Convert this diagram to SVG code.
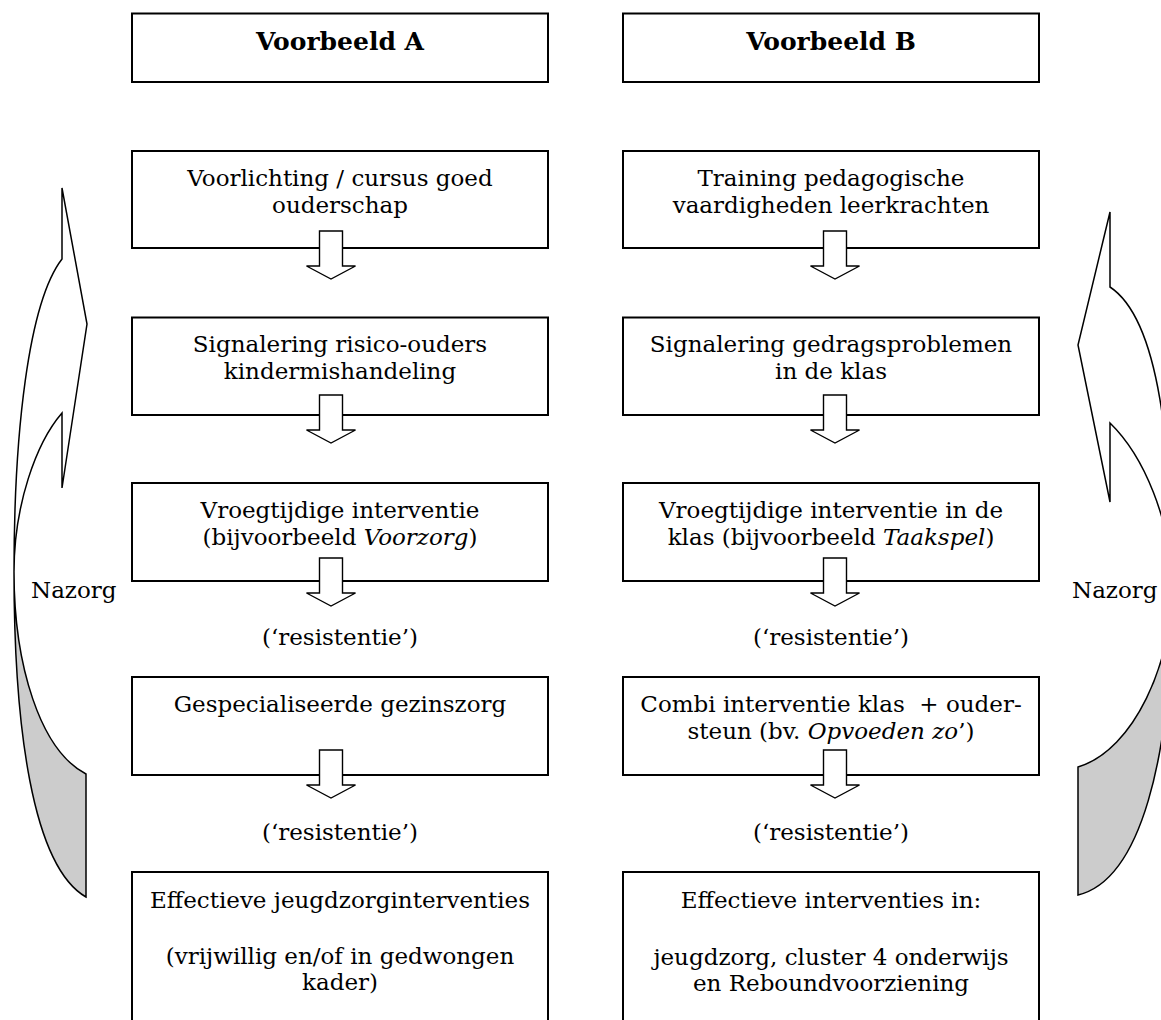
<svg xmlns="http://www.w3.org/2000/svg" width="1161" height="1020" viewBox="0 0 1161 1020">
<style>
.box{fill:#fff;stroke:#000;stroke-width:2}
.t{font-family:"DejaVu Serif","Liberation Serif",serif;font-size:23px;fill:#000;text-anchor:middle}
.h{font-family:"DejaVu Serif","Liberation Serif",serif;font-size:25px;font-weight:bold;fill:#000;text-anchor:middle}
.n{font-family:"DejaVu Serif","Liberation Serif",serif;font-size:23px;fill:#000}
.i{font-style:italic}
.arr{fill:#fff;stroke:#000;stroke-width:1.4;stroke-linejoin:miter}
.front{fill:#fff;stroke:#000;stroke-width:1.5;stroke-linejoin:miter}
.back{fill:#cccccc;stroke:#000;stroke-width:1.5;stroke-linejoin:miter}
</style>
<defs>
<path id="da" d="M-11.5,0 H11.5 V35 H24.5 L0,48 L-24.5,35 H-11.5 Z"/>
</defs>
<rect width="1161" height="1020" fill="#fff"/>

<g id="nazorg-left">
<path class="back" d="M14,572 C14,665 40,750 86,774 L86,897 C32,866 14,725 14,572 Z"/>
<path class="front" d="M62,188 L87,324 L62,488 L62,413 C36,443 14,505 14,572 C14,435 28,303 62,259 Z"/>
<text class="n" x="31" y="598">Nazorg</text>
</g>
<g id="nazorg-right">
<path class="back" d="M1172,590 C1172,660 1135,750 1078,767 L1078,895 C1140,880 1172,760 1172,590 Z"/>
<path class="front" d="M1110,212 L1078,345 L1110,502 L1110,423 C1143,455 1172,520 1172,590 C1172,450 1160,320 1110,287 Z"/>
<text class="n" x="1072" y="598">Nazorg</text>
</g>

<g id="headA"><rect class="box" x="132" y="13.5" width="416" height="68.5"/><text class="h" x="340" y="50">Voorbeeld A</text></g>
<g id="headB"><rect class="box" x="623" y="13.5" width="416" height="68.5"/><text class="h" x="831" y="50">Voorbeeld B</text></g>

<g id="a1"><rect class="box" x="132" y="151" width="416" height="97"/><text class="t" x="340" y="186">Voorlichting / cursus goed</text><text class="t" x="340" y="212.7">ouderschap</text></g>
<g id="a2"><rect class="box" x="132" y="317.5" width="416" height="97.5"/><text class="t" x="340" y="352">Signalering risico-ouders</text><text class="t" x="340" y="378.7">kindermishandeling</text></g>
<g id="a3"><rect class="box" x="132" y="483" width="416" height="98"/><text class="t" x="340" y="518">Vroegtijdige interventie</text><text class="t" x="340" y="544.7">(bijvoorbeeld <tspan class="i">Voorzorg</tspan>)</text></g>
<g id="a-res1"><text class="t" x="340" y="645">(‘resistentie’)</text></g>
<g id="a4"><rect class="box" x="132" y="677" width="416" height="98"/><text class="t" x="340" y="712">Gespecialiseerde gezinszorg</text></g>
<g id="a-res2"><text class="t" x="340" y="840">(‘resistentie’)</text></g>
<g id="a5"><rect class="box" x="132" y="872" width="416" height="160"/><text class="t" x="340" y="908">Effectieve jeugdzorginterventies</text><text class="t" x="340" y="964">(vrijwillig en/of in gedwongen</text><text class="t" x="340" y="990">kader)</text></g>

<g id="b1"><rect class="box" x="623" y="151" width="416" height="97"/><text class="t" x="831" y="186">Training pedagogische</text><text class="t" x="831" y="212.7">vaardigheden leerkrachten</text></g>
<g id="b2"><rect class="box" x="623" y="317.5" width="416" height="97.5"/><text class="t" x="831" y="352">Signalering gedragsproblemen</text><text class="t" x="831" y="378.7">in de klas</text></g>
<g id="b3"><rect class="box" x="623" y="483" width="416" height="98"/><text class="t" x="831" y="518">Vroegtijdige interventie in de</text><text class="t" x="831" y="544.7">klas (bijvoorbeeld <tspan class="i">Taakspel</tspan>)</text></g>
<g id="b-res1"><text class="t" x="831" y="645">(‘resistentie’)</text></g>
<g id="b4"><rect class="box" x="623" y="677" width="416" height="98"/><text class="t" x="831" y="712" style="white-space:pre">Combi interventie klas  + ouder-</text><text class="t" x="831" y="738.7">steun (bv. <tspan class="i">Opvoeden zo</tspan>’)</text></g>
<g id="b-res2"><text class="t" x="831" y="840">(‘resistentie’)</text></g>
<g id="b5"><rect class="box" x="623" y="872" width="416" height="160"/><text class="t" x="831" y="908">Effectieve interventies in:</text><text class="t" x="831" y="965">jeugdzorg, cluster 4 onderwijs</text><text class="t" x="831" y="991">en Reboundvoorziening</text></g>

<g id="connectors">
<use href="#da" class="arr" x="331" y="231"/>
<use href="#da" class="arr" x="331" y="395"/>
<use href="#da" class="arr" x="331" y="558"/>
<use href="#da" class="arr" x="331" y="750"/>
<use href="#da" class="arr" x="835" y="231"/>
<use href="#da" class="arr" x="835" y="395"/>
<use href="#da" class="arr" x="835" y="558"/>
<use href="#da" class="arr" x="835" y="750"/>
</g>
</svg>
